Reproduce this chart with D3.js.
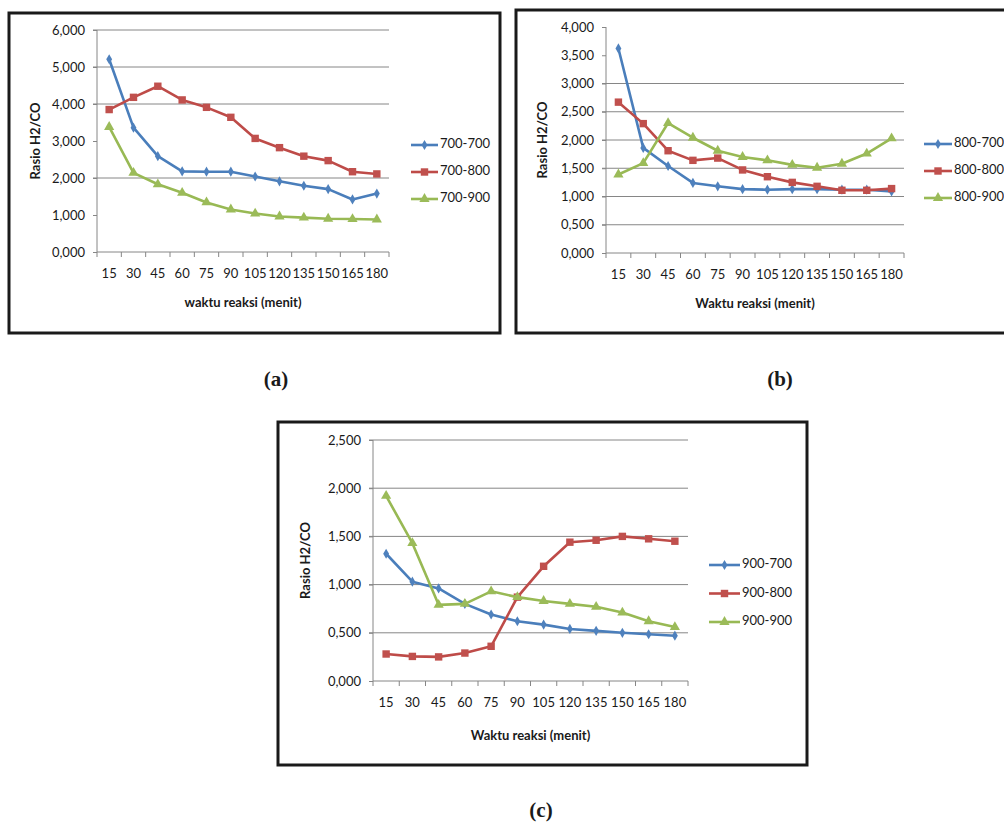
<!DOCTYPE html>
<html>
<head>
<meta charset="utf-8">
<script src="https://cdn.jsdelivr.net/npm/d3@7"></script>
<style>
  body { margin: 0; background: #fff; }
  svg { display: block; }
  text { font-family: Lato, "Open Sans", sans-serif; fill: #1a1a1a; }
</style>
</head>
<body>
<svg id="chart" width="1004" height="823"></svg>
<script>
// Reaction time (minutes), shared by all three panels
const categories = [15, 30, 45, 60, 75, 90, 105, 120, 135, 150, 165, 180];

// Panel (a)
const seriesA = ["700-700", "700-800", "700-900"];
const a700 = [5.21, 3.36, 2.59, 2.18, 2.17, 2.17, 2.04, 1.91, 1.79, 1.70, 1.42, 1.58];
const a800 = [3.85, 4.18, 4.48, 4.11, 3.91, 3.64, 3.07, 2.82, 2.59, 2.47, 2.17, 2.11];
const a900 = [3.38, 2.14, 1.83, 1.60, 1.34, 1.15, 1.04, 0.96, 0.93, 0.90, 0.89, 0.88];
const ticksA = [0, 1, 2, 3, 4, 5, 6];
const gridA = [2, 4, 5, 6];

// Panel (b)
const seriesB = ["800-700", "800-800", "800-900"];
const b700 = [3.62, 1.86, 1.54, 1.24, 1.18, 1.13, 1.12, 1.13, 1.13, 1.12, 1.12, 1.09];
const b800 = [2.67, 2.29, 1.81, 1.64, 1.68, 1.47, 1.35, 1.25, 1.18, 1.11, 1.11, 1.14];
const b900 = [1.39, 1.59, 2.30, 2.04, 1.81, 1.70, 1.64, 1.56, 1.51, 1.58, 1.76, 2.03];
const ticksB = [0, 0.5, 1, 1.5, 2, 2.5, 3, 3.5, 4];
const gridB = [0.5, 1, 1.5, 2, 2.5, 3];

// Panel (c)
const seriesC = ["900-700", "900-800", "900-900"];
const c700 = [1.32, 1.03, 0.96, 0.80, 0.69, 0.62, 0.585, 0.54, 0.52, 0.50, 0.485, 0.47];
const c800 = [0.28, 0.255, 0.25, 0.29, 0.36, 0.87, 1.19, 1.44, 1.46, 1.50, 1.475, 1.45];
const c900 = [1.92, 1.43, 0.79, 0.80, 0.93, 0.87, 0.83, 0.80, 0.77, 0.71, 0.62, 0.56];
const ticksC = [0, 0.5, 1, 1.5, 2, 2.5];
const gridC = [0.5, 1, 1.5, 2, 2.5];

const lineColors = ["#4a7ebb", "#be4b48", "#98b954"];
const markColors = ["#4f81bd", "#c0504d", "#9bbb59"];
const markShapes = [d3.symbolDiamond, d3.symbolSquare, d3.symbolTriangle];
const markSizes = [30, 55, 45];

// Comma as decimal separator, like the source
const fmt = d3.formatLocale({decimal: ",", thousands: ".", grouping: [3], currency: ["", ""]}).format(".3f");

const svg = d3.select("#chart");

drawPanel({
  frame: {x: 9, y: 13, w: 491, h: 320},
  plot: {x0: 97, x1: 389, top: 30, bottom: 252},
  ymax: 6, ticks: ticksA, grid: gridA,
  names: seriesA, values: [a700, a800, a900],
  xTitle: "waktu reaksi (menit)", xTitleY: 304, yTitleX: 37,
  legend: {x: 411, len: 27, y: 145, step: 27}
});

drawPanel({
  frame: {x: 516, y: 10, w: 500, h: 323},
  plot: {x0: 606, x1: 904, top: 27, bottom: 253},
  ymax: 4, ticks: ticksB, grid: gridB,
  names: seriesB, values: [b700, b800, b900],
  xTitle: "Waktu reaksi (menit)", xTitleY: 305, yTitleX: 544,
  legend: {x: 924, len: 28, y: 144, step: 27}
});

drawPanel({
  frame: {x: 278, y: 422, w: 529, h: 343},
  plot: {x0: 373, x1: 688, top: 440, bottom: 681},
  ymax: 2.5, ticks: ticksC, grid: gridC,
  names: seriesC, values: [c700, c800, c900],
  xTitle: "Waktu reaksi (menit)", xTitleY: 737, yTitleX: 307,
  legend: {x: 709, len: 31, y: 565, step: 28.5}
});

// Panel captions
const captions = [["(a)", 276, 381], ["(b)", 780, 381], ["(c)", 541, 812]];
svg.selectAll("text.caption")
  .data(captions)
  .enter().append("text")
  .attr("class", "caption")
  .attr("x", d => d[1])
  .attr("y", d => d[2])
  .attr("text-anchor", "middle")
  .attr("dominant-baseline", "middle")
  .style("font-family", "'Liberation Serif', serif")
  .style("font-weight", "bold")
  .style("font-size", "21px")
  .text(d => d[0]);


function drawPanel (cfg) {
  const g = svg.append("g");
  const p = cfg.plot;

  const x = d3.scaleBand().domain(categories).range([p.x0, p.x1]);
  const y = d3.scaleLinear().domain([0, cfg.ymax]).range([p.bottom, p.top]);
  const cx = (d) => x(d) + x.bandwidth() / 2;

  // Gridlines
  g.selectAll("line.grid")
    .data(cfg.grid)
    .enter().append("line")
    .attr("x1", p.x0 - 4).attr("x2", p.x1)
    .attr("y1", d => y(d)).attr("y2", d => y(d))
    .attr("stroke", "#868686").attr("stroke-width", 1);

  // Y axis
  const yAxis = d3.axisLeft(y).tickValues(cfg.ticks).tickFormat(fmt).tickSize(4).tickPadding(8);
  const ya = g.append("g").attr("transform", `translate(${p.x0},0)`).call(yAxis);
  ya.select(".domain").remove();
  ya.selectAll("line").attr("stroke", "#868686");
  ya.selectAll("text").style("font-size", "13px").attr("fill", "#222");
  g.append("line")
    .attr("x1", p.x0).attr("x2", p.x0)
    .attr("y1", p.top).attr("y2", p.bottom)
    .attr("stroke", "#868686");

  // X axis: labels centred in each band, tick marks on band edges
  const xAxis = d3.axisBottom(x).tickSize(0).tickPadding(17);
  const xa = g.append("g").attr("transform", `translate(0,${p.bottom})`).call(xAxis);
  xa.select(".domain").remove();
  xa.selectAll("text").style("font-size", "13px").attr("fill", "#222");
  g.append("line")
    .attr("x1", p.x0).attr("x2", p.x1)
    .attr("y1", p.bottom).attr("y2", p.bottom)
    .attr("stroke", "#868686");
  g.selectAll("line.xtick")
    .data(d3.range(categories.length + 1))
    .enter().append("line")
    .attr("x1", i => p.x0 + i * x.step()).attr("x2", i => p.x0 + i * x.step())
    .attr("y1", p.bottom).attr("y2", p.bottom + 5)
    .attr("stroke", "#868686");

  // Axis titles
  g.append("text")
    .attr("x", (p.x0 + p.x1) / 2).attr("y", cfg.xTitleY)
    .attr("text-anchor", "middle").attr("dominant-baseline", "middle")
    .style("font-size", "13px").style("font-weight", "bold")
    .text(cfg.xTitle);
  g.append("text")
    .attr("transform", `translate(${cfg.yTitleX},${(p.top + p.bottom) / 2}) rotate(-90)`)
    .attr("text-anchor", "middle").attr("dominant-baseline", "middle")
    .style("font-size", "13px").style("font-weight", "bold")
    .text("Rasio H2/CO");

  // Series lines and markers
  const line = d3.line().x((d, i) => cx(categories[i])).y(d => y(d));
  cfg.values.forEach((vals, k) => {
    g.append("path")
      .datum(vals)
      .attr("d", line)
      .attr("fill", "none")
      .attr("stroke", lineColors[k])
      .attr("stroke-width", 2.6)
      .attr("stroke-linejoin", "round");
    g.selectAll(null)
      .data(vals)
      .enter().append("path")
      .attr("d", d3.symbol().type(markShapes[k]).size(markSizes[k]))
      .attr("transform", (d, i) => `translate(${cx(categories[i])},${y(d)})`)
      .attr("fill", markColors[k]);
  });

  // Legend
  const L = cfg.legend;
  const lg = g.selectAll("g.legend")
    .data(cfg.names)
    .enter().append("g")
    .attr("transform", (d, i) => `translate(${L.x},${L.y + i * L.step})`);
  lg.append("line")
    .attr("x1", 0).attr("x2", L.len)
    .attr("stroke", (d, i) => lineColors[i])
    .attr("stroke-width", 2.6);
  lg.append("path")
    .attr("d", (d, i) => d3.symbol().type(markShapes[i]).size(markSizes[i])())
    .attr("transform", `translate(${L.len / 2},0)`)
    .attr("fill", (d, i) => markColors[i]);
  lg.append("text")
    .attr("x", L.len + 2)
    .attr("dominant-baseline", "middle")
    .style("font-size", "13px")
    .text(d => d);

  // Frame
  const f = cfg.frame;
  g.append("rect")
    .attr("x", f.x).attr("y", f.y)
    .attr("width", f.w).attr("height", f.h)
    .attr("fill", "none")
    .attr("stroke", "#1a1a1a")
    .attr("stroke-width", 3);
}
</script>
</body>
</html>
